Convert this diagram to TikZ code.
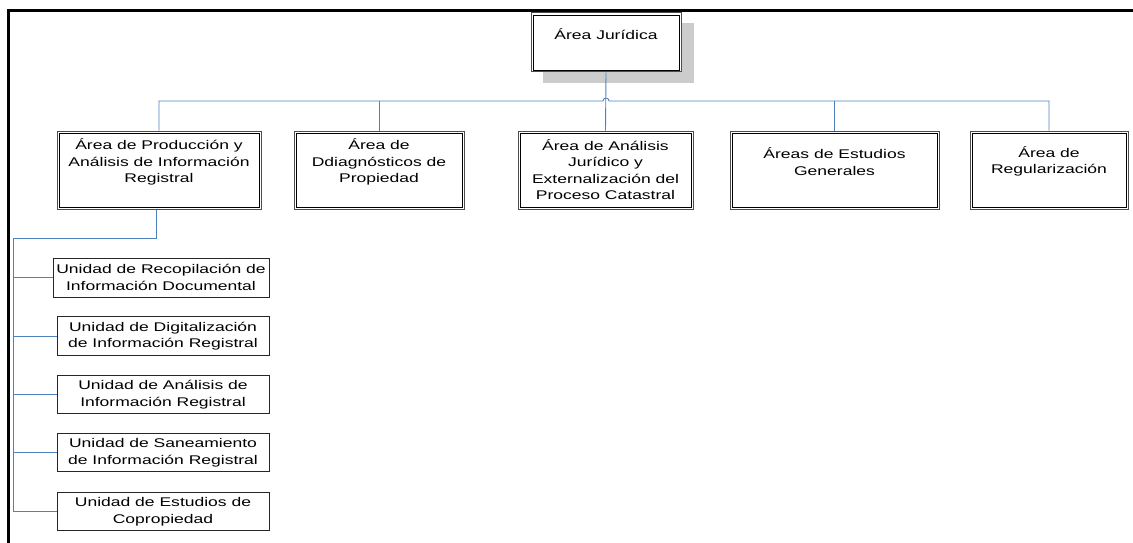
\documentclass[tikz,border=0pt]{standalone}
\usepackage{fontspec}
\newfontfamily\orgfont{Liberation Sans}[FakeStretch=1.39]
\begin{document}
\begin{tikzpicture}[x=1pt,y=-1pt,
  lbl/.style={font=\orgfont\fontsize{12.6}{16.5}\selectfont, align=center, inner sep=0pt, text=black},
  areabox/.style={draw=black!70, line width=1pt, fill=white, minimum height=78pt},
  inner/.style={draw=black, line width=0.6pt},
  unitbox/.style={draw=black!85, line width=0.8pt, fill=white, minimum height=38.5pt, minimum width=212pt},
  link/.style={draw={rgb,255:red,79;green,129;blue,189}, line width=0.9pt},
  frameline/.style={draw=black, line width=2.8pt}]
\useasboundingbox (0,0) rectangle (1133,543);

% outer frame edges
\draw[frameline] (8.7,543) -- (8.7,10.8) -- (1133,10.8);

% head office with its shadow
\fill[black!20] (543,23) rectangle (694,83);
\node[areabox, minimum width=150pt, minimum height=59pt] (top) at (606,42.5) {};
\node[lbl] at ([yshift=8.5pt]top.center) {Área Jurídica};

% second level areas
\node[areabox, minimum width=204pt] (a1) at (159,170) {};
\node[areabox, minimum width=170pt] (a2) at (379,170) {};
\node[areabox, minimum width=175pt] (a3) at (605.5,170) {};
\node[areabox, minimum width=209pt] (a4) at (834.5,170) {};
\node[areabox, minimum width=158pt] (a5) at (1049,170) {};

% inner line of the double borders
\foreach \b in {top,a1,a2,a3,a4,a5}
  \draw[inner] ([xshift=2.6pt,yshift=-2.6pt]\b.north west) rectangle ([xshift=-2.6pt,yshift=2.6pt]\b.south east);

\node[lbl] at ([yshift=8pt]a1.center) {Área de Producción y\\Análisis de Información\\Registral};
\node[lbl] at ([yshift=8pt]a2.center) {Área de\\Ddiagnósticos de\\Propiedad};
\node[lbl] at ([yshift=0.5pt]a3.center) {Área de Análisis\\Jurídico y\\Externalización del\\Proceso Catastral};
\node[lbl] at ([yshift=8.5pt]a4.center) {Áreas de Estudios\\Generales};
\node[lbl] at ([yshift=8.5pt]a5.center) {Área de\\Regularización};

% units under the first area
\node[unitbox, minimum width=216pt, minimum height=39pt] (u1) at (161,277.5) {};
\node[unitbox] (u2) at (163,336) {};
\node[unitbox] (u3) at (163,394.5) {};
\node[unitbox] (u4) at (163,452.5) {};
\node[unitbox] (u5) at (163,511.5) {};

\node[lbl] at (u1.center) {Unidad de Recopilación de\\Información Documental};
\node[lbl] at (u2.center) {Unidad de Digitalización\\de Información Registral};
\node[lbl] at (u3.center) {Unidad de Análisis de\\Información Registral};
\node[lbl] at (u4.center) {Unidad de Saneamiento\\de Información Registral};
\node[lbl] at (u5.center) {Unidad de Estudios de\\Copropiedad};

% connectors of the upper levels
\coordinate (bus) at (0,101);
\draw[link] (top.south) -- (a3.north);
\draw[link] (a1.north) -- (a1.north |- bus) -- ([xshift=-3pt]top.south |- bus)
  arc[start angle=180, end angle=0, radius=3pt] -- (a5.north |- bus) -- (a5.north);
\draw[link] (a2.north |- bus) -- (a2.north);
\draw[link] (a4.north |- bus) -- (a4.north);

% connectors of the units
\coordinate (trunk) at (13,238);
\draw[link] ([xshift=-3pt]a1.south) -- ([xshift=-3pt]a1.south |- trunk) -- (trunk) -- (trunk |- u5.west) -- (u5.west);
\draw[link] (trunk |- u1.west) -- (u1.west);
\draw[link] (trunk |- u2.west) -- (u2.west);
\draw[link] (trunk |- u3.west) -- (u3.west);
\draw[link] (trunk |- u4.west) -- (u4.west);
\end{tikzpicture}
\end{document}
